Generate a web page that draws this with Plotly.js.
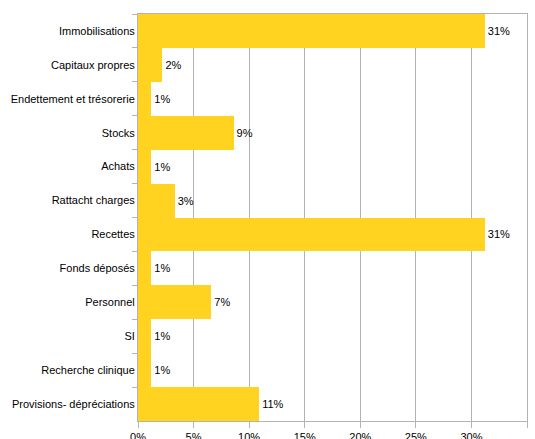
<!DOCTYPE html>
<html><head><meta charset="utf-8">
<script src="https://cdn.plot.ly/plotly-3.0.1.min.js"></script>
<style>html,body{margin:0;padding:0;background:#fff;overflow:hidden}#c{width:535px;height:439px}</style>
</head><body><div id="c"></div>
<script>
const categories = ["Immobilisations","Capitaux propres","Endettement et trésorerie","Stocks","Achats","Rattacht charges","Recettes","Fonds déposés","Personnel","SI","Recherche clinique","Provisions- dépréciations"];
const shares = [0.312,0.022,0.012,0.086,0.012,0.033,0.312,0.012,0.066,0.012,0.012,0.109];
const xTicks = [0,0.05,0.10,0.15,0.20,0.25,0.30,0.35];
const xTickLabels = ["0%","5%","10%","15%","20%","25%","30%","35%"];

const font = {family:"Liberation Sans, Arial, sans-serif", size:11, color:"#000"};
Plotly.newPlot("c",[{
  type:"bar", orientation:"h",
  y:categories, x:shares,
  marker:{color:"#FFD320", line:{width:0}},
  texttemplate:"%{x:.0%}", textposition:"outside", cliponaxis:false,
  textfont:font, hoverinfo:"skip"
}],{
  width:535, height:439,
  margin:{l:138,r:8,t:14,b:18},
  paper_bgcolor:"#fff", plot_bgcolor:"#fff",
  font:font, bargap:0, showlegend:false,
  xaxis:{range:[0,0.35], tickvals:xTicks, ticktext:xTickLabels, showgrid:true, gridcolor:"#b3b3b3", gridwidth:1,
    showline:true, linecolor:"#b3b3b3", linewidth:1, mirror:true, ticks:"outside", ticklen:6, tickcolor:"#b3b3b3", zeroline:false, tickfont:font, ticklabelstandoff:0},
  yaxis:{type:"category", autorange:"reversed", showgrid:false, showline:true, linecolor:"#b3b3b3", linewidth:1, mirror:true,
    ticks:"outside", tickson:"boundaries", ticklen:5, tickcolor:"#b3b3b3", tickfont:font}
},{staticPlot:true, displayModeBar:false});
</script></body></html>
